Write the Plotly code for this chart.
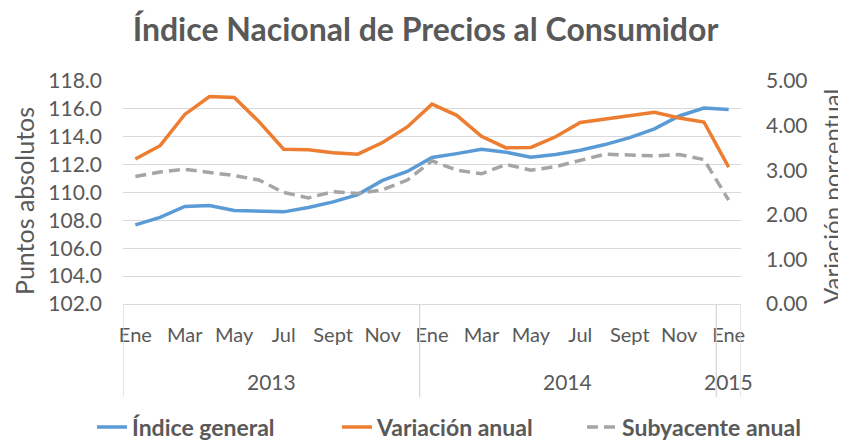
import plotly.graph_objects as go

months = ["Ene", "Feb", "Mar", "Abr", "May", "Jun", "Jul", "Ago", "Sept", "Oct", "Nov", "Dic",
          "Ene", "Feb", "Mar", "Abr", "May", "Jun", "Jul", "Ago", "Sept", "Oct", "Nov", "Dic",
          "Ene"]
years = ["2013"] * 12 + ["2014"] * 12 + ["2015"]

indice_general = [107.68, 108.21, 109.00, 109.07, 108.71, 108.65, 108.61, 108.92, 109.33, 109.85,
                  110.87, 111.51, 112.51, 112.79, 113.10, 112.89, 112.53, 112.72, 113.03, 113.44,
                  113.94, 114.57, 115.49, 116.06, 115.95]
variacion_anual = [3.25, 3.55, 4.25, 4.65, 4.63, 4.09, 3.47, 3.46, 3.39, 3.36,
                   3.62, 3.97, 4.48, 4.23, 3.76, 3.50, 3.51, 3.75, 4.07, 4.15,
                   4.22, 4.30, 4.17, 4.08, 3.07]
subyacente_anual = [2.86, 2.96, 3.02, 2.95, 2.88, 2.78, 2.50, 2.38, 2.52, 2.48,
                    2.56, 2.78, 3.21, 3.00, 2.92, 3.13, 3.00, 3.08, 3.23, 3.36,
                    3.34, 3.32, 3.35, 3.24, 2.33]

FONT = "Lato"
GREY_TXT = "#595959"
GRID = "#d9d9d9"

# page offset of the figure (default body margin) - target positions are page pixels
OX, OY = 8, 8
W, H = 846, 475  # a little taller than the window so the legend has room below
PLOT_L, PLOT_R, PLOT_T, PLOT_B = 123, 741, 81, 304  # page pixels of the plot area
L = PLOT_L - OX
R = W - (PLOT_R - OX)
T = PLOT_T - OY
B = H - (PLOT_B - OY)
PW, PH = PLOT_R - PLOT_L, PLOT_B - PLOT_T


def px_x(p):
    return (p - PLOT_L) / PW


def px_y(p):
    return (PLOT_B - p) / PH


x = list(range(len(months)))
tick_idx = [i for i in x if i % 2 == 0]

fig = go.Figure()
fig.add_trace(go.Scatter(x=x, y=indice_general, name="Índice general", mode="lines",
                         line=dict(color="#5b9bd5", width=3.5), yaxis="y"))
fig.add_trace(go.Scatter(x=x, y=variacion_anual, name="Variación anual", mode="lines",
                         line=dict(color="#ed7d31", width=3.5), yaxis="y2"))
fig.add_trace(go.Scatter(x=x, y=subyacente_anual, name="Subyacente anual", mode="lines",
                         line=dict(color="#a5a5a5", width=3.5, dash="11px,6px"), yaxis="y2"))

# year group labels and dividers
groups = []
for i, yv in enumerate(years):
    if not groups or groups[-1][0] != yv:
        groups.append([yv, i, i])
    else:
        groups[-1][2] = i

annotations = []
shapes = []
for name, a, b in groups:
    annotations.append(dict(x=(a + b) / 2, y=px_y(381), xref="x", yref="paper", text=name,
                            showarrow=False, font=dict(family=FONT, size=21, color=GREY_TXT),
                            xanchor="center", yanchor="middle"))
    shapes.append(dict(type="line", xref="x", yref="paper", x0=a - 0.5, x1=a - 0.5,
                       y0=0, y1=px_y(397), line=dict(color=GRID, width=1.3)))
shapes.append(dict(type="line", xref="x", yref="paper", x0=len(x) - 0.5, x1=len(x) - 0.5,
                   y0=0, y1=px_y(397), line=dict(color=GRID, width=1.3)))

# axis titles
annotations.append(dict(x=px_x(24), y=px_y(201), xref="paper", yref="paper",
                        text="Puntos absolutos", textangle=-90, showarrow=False,
                        xanchor="center", yanchor="middle",
                        font=dict(family=FONT, size=25, color=GREY_TXT)))
annotations.append(dict(x=px_x(831), y=px_y(197), xref="paper", yref="paper",
                        text="Variación porcentual", textangle=-90, showarrow=False,
                        xanchor="center", yanchor="middle",
                        font=dict(family=FONT, size=24, color=GREY_TXT)))

fig.update_layout(
    width=W, height=H,
    margin=dict(l=L, r=R, t=T, b=B),
    paper_bgcolor="white", plot_bgcolor="white",
    title=dict(text="<b>Índice Nacional de Precios al Consumidor</b>",
               x=(425.5 - OX) / W, xref="container", xanchor="center",
               y=1 - (30 - OY) / H, yref="container", yanchor="middle",
               font=dict(family=FONT, size=32, color=GREY_TXT)),
    font=dict(family=FONT, color=GREY_TXT, size=20),
    xaxis=dict(range=[-0.5, len(x) - 0.5], tickvals=tick_idx,
               ticktext=[months[i] for i in tick_idx],
               showgrid=False, zeroline=False, showline=True, linecolor=GRID, linewidth=1.3,
               ticks="", ticklabelstandoff=13,
               tickfont=dict(family=FONT, size=20, color=GREY_TXT)),
    yaxis=dict(range=[102, 118], dtick=2, tickformat=".1f", showgrid=True, gridcolor=GRID,
               gridwidth=1.3, zeroline=False, showline=False, ticks="", ticklabelstandoff=20,
               tickfont=dict(family=FONT, size=21, color=GREY_TXT)),
    yaxis2=dict(range=[0, 5], dtick=1, tickformat=".2f", overlaying="y", side="right",
                showgrid=False, zeroline=False, showline=False, ticks="", ticklabelstandoff=24,
                tickfont=dict(family=FONT, size=21, color=GREY_TXT)),
    legend=dict(orientation="h", x=px_x(132 - 40), xanchor="left", y=px_y(427),
                yanchor="middle",
                font=dict(family=FONT, size=23, color=GREY_TXT, weight="bold"),
                entrywidth=200, entrywidthmode="pixels", tracegroupgap=0,
                bgcolor="rgba(0,0,0,0)"),
    annotations=annotations,
    shapes=shapes,
    showlegend=True,
)

fig.write_html("out.html")
